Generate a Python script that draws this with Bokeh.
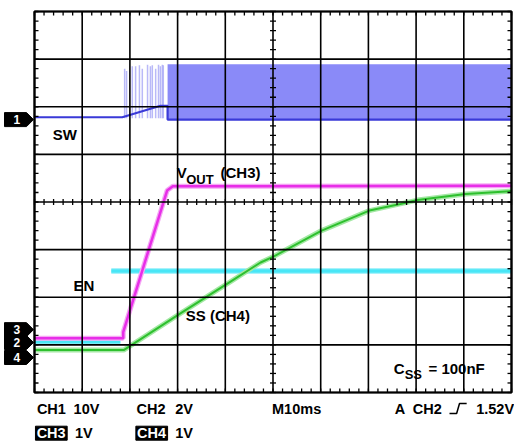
from bokeh.plotting import figure
from bokeh.models import Range1d, Label
from bokeh.embed import file_html
from bokeh.resources import INLINE

# ---------------- data (time in ms, amplitude in screen divisions) ----------------
# SW (CH1) dark trace before/at switching onset
sw_t = [0, 18.4, 26.4, 27.9, 27.9, 100]
sw_v = [5.78, 5.78, 6.02, 6.02, 5.73, 5.73]
# SW switching envelope (band)
band_t = [27.9, 100]
band_lo = [5.73, 5.73]
band_hi = [6.89, 6.89]
# sparse switching pulses during start-up
spike_t = [18.9, 19.3, 20.5, 21.2, 22.0, 22.6, 23.7, 24.3, 24.7, 25.4, 26.0, 26.4, 26.8, 27.0]
spike_top = [6.80, 6.75, 6.85, 6.85, 6.87, 6.80, 6.88, 6.85, 6.87, 6.80, 6.88, 6.85, 6.88, 6.87]
spike_base = [5.76] * len(spike_t)
# VOUT (CH3)
vout_t = [0, 18.6, 18.6, 27.8, 29.0, 100]
vout_v = [1.14, 1.14, 1.27, 4.24, 4.33, 4.34]
# EN (CH2)
en_lo_t = [0, 18.0]
en_lo_v = [1.06, 1.06]
en_hi_t = [16.1, 100]
en_hi_v = [2.55, 2.55]
# SS (CH4)
ss_t = [0, 18.7, 30.6, 41.1, 47.4, 50.2, 60.2, 70.2, 76.7, 80.3, 90.4, 100]
ss_v = [0.89, 0.89, 1.66, 2.33, 2.73, 2.86, 3.40, 3.82, 3.96, 4.04, 4.17, 4.23]

# channel ground markers
marker_names = ["1", "3", "2", "4"]
marker_levels = [5.73, 1.32, 1.05, 0.735]

# graticule: 10 x 10 ms, 8 divisions, 5 minor ticks per division
x_major = list(range(0, 101, 10))
x_minor = list(range(0, 101, 2))
y_major = list(range(0, 9))
y_minor = [i / 5 for i in range(41)]

# status line texts
row1_x = [0.5, 8.2, 21.4, 29.5, 49.8, 75.5, 79.3, 92.6]
row1_text = ["CH1", "10V", "CH2", "2V", "M10ms", "A", "CH2", "1.52V"]
row2_x = [0.45, 8.5, 21.5, 29.5]
row2_text = ["CH3", "1V", "CH4", "1V"]
row2_boxed = [True, False, True, False]

FONT = "Liberation Sans"
PXX = 4.77     # pixels per ms
PXY = 47.625   # pixels per division

p = figure(width=514, height=442,
           x_range=Range1d(-34 / PXX, 100 + 3 / PXX),
           y_range=Range1d(-50 / PXY, 8 + 11 / PXY),
           output_backend="svg", toolbar_location=None,
           x_axis_type=None, y_axis_type=None,
           min_border=0, min_border_left=0, min_border_right=0,
           min_border_top=0, min_border_bottom=0)
p.background_fill_color = "white"
p.border_fill_color = "white"
p.outline_line_color = None
p.xgrid.visible = False
p.ygrid.visible = False

# ---------------- traces ----------------
p.varea(x=band_t, y1=band_lo, y2=band_hi, fill_color="#8a8af8")
p.segment(x0=spike_t, y0=spike_base, x1=spike_t, y1=spike_top,
          line_color="#a8a8f6", line_width=1.5, line_alpha=0.8)
p.line(sw_t, sw_v, line_color="#3a3ad8", line_width=2.2)

p.line(en_lo_t, en_lo_v, line_color="#a8f2fb", line_width=6)
p.line(en_lo_t, en_lo_v, line_color="#48e6f6", line_width=3)
p.line(en_hi_t, en_hi_v, line_color="#a8f2fb", line_width=6)
p.line(en_hi_t, en_hi_v, line_color="#48e6f6", line_width=3.5)

p.line(vout_t, vout_v, line_color="#f4a8f4", line_width=5)
p.line(vout_t, vout_v, line_color="#e82ee8", line_width=2.5)

p.line(ss_t, ss_v, line_color="#a4e8a4", line_width=5)
p.line(ss_t, ss_v, line_color="#2ec02e", line_width=2)

# ---------------- graticule (drawn over the traces) ----------------
x0, x1 = x_major[0], x_major[-1]
y0, y1 = y_major[0], y_major[-1]
p.segment(x0=x_major, y0=[y0] * len(x_major), x1=x_major, y1=[y1] * len(x_major),
          line_color="black", line_width=1.6)
p.segment(x0=[x0] * len(y_major), y0=y_major, x1=[x1] * len(y_major), y1=y_major,
          line_color="black", line_width=1.6)
p.quad(left=[x0], right=[x1], bottom=[y0], top=[y1], fill_alpha=0,
       line_color="black", line_width=2.2)

tx = 4 / PXX
ty = 4 / PXY
cx = 3 / PXX
cy = 3 / PXY
xm = x_major[len(x_major) // 2]
ym = y_major[len(y_major) // 2]
nx = len(x_minor)
ny = len(y_minor)
tick_kw = dict(line_color="black", line_width=1.3)
p.segment(x0=x_minor, y0=[y0] * nx, x1=x_minor, y1=[y0 + ty] * nx, **tick_kw)
p.segment(x0=x_minor, y0=[y1] * nx, x1=x_minor, y1=[y1 - ty] * nx, **tick_kw)
p.segment(x0=x_minor, y0=[ym - cy] * nx, x1=x_minor, y1=[ym + cy] * nx, **tick_kw)
p.segment(x0=[x0] * ny, y0=y_minor, x1=[x0 + tx] * ny, y1=y_minor, **tick_kw)
p.segment(x0=[x1] * ny, y0=y_minor, x1=[x1 - tx] * ny, y1=y_minor, **tick_kw)
p.segment(x0=[xm - cx] * ny, y0=y_minor, x1=[xm + cx] * ny, y1=y_minor, **tick_kw)

# ---------------- channel markers ----------------
mh = 7 / PXY
left = -30 / PXX
body = -8 / PXX
tip = -1 / PXX
p.patches(xs=[[left, body, tip, body, left] for _ in marker_levels],
          ys=[[lv + mh, lv + mh, lv, lv - mh, lv - mh] for lv in marker_levels],
          fill_color="black", line_color="black")
for name, lv in zip(marker_names, marker_levels):
    p.add_layout(Label(x=(left + body) / 2 + 0.3, y=lv, text=name, text_align="center",
                       text_baseline="middle", text_color="white", text_font=FONT,
                       text_font_style="bold", text_font_size="12px"))


def lab(x, y, t, size="15px", color="black"):
    p.add_layout(Label(x=x, y=y, text=t, text_align="left", text_baseline="middle",
                       text_font=FONT, text_font_style="bold", text_font_size=size,
                       text_color=color))


lab(3.8, 5.42, "SW")
lab(29.8, 4.62, "V")
lab(31.8, 4.47, "OUT", size="13px")
lab(39.0, 4.62, "(CH3)")
lab(8.2, 2.25, "EN")
lab(31.7, 1.62, "SS (CH4)")
lab(75.3, 0.50, "C")
lab(77.6, 0.37, "SS", size="13px")
lab(82.6, 0.50, "= 100nF")

# bottom status rows
STATUS = "14.5px"
row1 = -16 / PXY
for xx, tt in zip(row1_x, row1_text):
    lab(xx, row1, tt, size=STATUS)
# trigger slope symbol (rising edge)
p.line([87.0, 88.5, 89.1, 90.6], [row1 - 5 / PXY, row1 - 5 / PXY, row1 + 5 / PXY, row1 + 5 / PXY],
       line_color="black", line_width=1.5)

row2 = -40.7 / PXY
box_l = [xx - 0.25 for xx, b in zip(row2_x, row2_boxed) if b]
box_r = [xx + 6.4 for xx, b in zip(row2_x, row2_boxed) if b]
p.quad(left=box_l, right=box_r, bottom=[row2 - 7 / PXY] * len(box_l),
       top=[row2 + 7 / PXY] * len(box_l), fill_color="black", line_color="black")
for xx, tt, b in zip(row2_x, row2_text, row2_boxed):
    lab(xx, row2, tt, size=STATUS, color="white" if b else "black")

open("out.html", "w").write(file_html(p, INLINE))
